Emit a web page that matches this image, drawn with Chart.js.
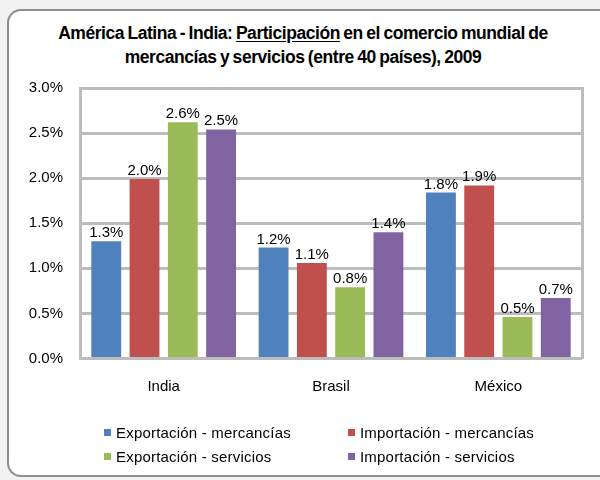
<!DOCTYPE html>
<html>
<head>
<meta charset="utf-8">
<script src="https://cdn.jsdelivr.net/npm/chart.js@4"></script>
<style>
  body { margin: 0; background: #f2f2f2; width: 600px; height: 480px; overflow: hidden; position: relative; font-family: "Liberation Sans", Arial, sans-serif; }
  #frame { position: absolute; left: 7px; top: 9px; width: 610px; height: 464px; border: 2px solid #8e8e8e; border-radius: 14px; background: #fff; }
  #title { position: absolute; left: 0; top: 21px; width: 606px; text-align: center; font-weight: bold; font-size: 17.5px; letter-spacing: -0.45px; word-spacing: -1px; line-height: 24px; color: #000; }
  #title u { text-underline-offset: 2px; }
  #wrap { position: absolute; left: 0; top: 0; width: 600px; height: 480px; }
  #legend { position: absolute; left: 104px; top: 423px; display: grid; grid-template-columns: 244px 220px; row-gap: 6px; font-size: 15px; letter-spacing: 0.2px; color: #000; }
  #legend div { display: flex; align-items: center; height: 18px; white-space: nowrap; }
  #legend span.box { display: inline-block; width: 7px; height: 7px; margin-right: 5px; }
</style>
</head>
<body>
<div id="frame"></div>
<div id="title">América Latina - India: <u>Participación</u> en el comercio mundial de<br>mercancías y servicios (entre 40 países), 2009</div>
<div id="wrap"><canvas id="chart"></canvas></div>
<div id="legend"></div>
<script>
const categories = ['India', 'Brasil', 'México'];
const seriesLabels = ['Exportación - mercancías', 'Importación - mercancías', 'Exportación - servicios', 'Importación - servicios'];
const seriesColors = ['#4f81bd', '#c0504d', '#9bbb59', '#8064a2'];

// participacion en %
const expMercancias = [1.30, 1.23, 1.84];
const impMercancias = [1.99, 1.06, 1.92];
const expServicios = [2.62, 0.79, 0.46];
const impServicios = [2.54, 1.40, 0.67];

const yTicks = [0, 0.5, 1.0, 1.5, 2.0, 2.5, 3.0];

const allSeries = [expMercancias, impMercancias, expServicios, impServicios];
const gridColor = '#bcbcbc';
const fontFamily = '"Liberation Sans", Arial, sans-serif';

// etiquetas sobre las barras
const barLabels = {
    id: 'barLabels',
    afterDatasetsDraw(chart) {
        const ctx = chart.ctx;
        ctx.save();
        ctx.font = '15px ' + fontFamily;
        ctx.fillStyle = '#000';
        ctx.textAlign = 'center';
        ctx.textBaseline = 'alphabetic';
        chart.data.datasets.forEach((ds, i) => {
            chart.getDatasetMeta(i).data.forEach((bar, j) => {
                ctx.fillText(ds.data[j].toFixed(1) + '%', bar.x, bar.y - 4);
            });
        });
        ctx.restore();
    }
};

const ctx = document.getElementById('chart').getContext('2d');

const chart = new Chart(ctx, {
    type: 'bar',
    data: {
        labels: categories,
        datasets: allSeries.map((values, i) => ({
            label: seriesLabels[i],
            data: values,
            backgroundColor: seriesColors[i],
            borderWidth: 0,
            categoryPercentage: 0.915,
            barPercentage: 0.78,
        })),
    },
    options: {
        responsive: true,
        maintainAspectRatio: false,
        animation: false,
        layout: {
            padding: { top: 88, right: 18, bottom: 81.5, left: 0 }
        },
        plugins: {
            legend: { display: false },
            title: { display: false },
            tooltip: { enabled: false },
        },
        scales: {
            x: {
                grid: { display: false, drawTicks: false },
                border: { display: false },
                ticks: {
                    color: '#000',
                    font: { family: fontFamily, size: 15 },
                    padding: 19,
                },
                afterFit: (s) => { s.height = 40; },
            },
            y: {
                min: 0,
                max: 3,
                afterBuildTicks: (s) => { s.ticks = yTicks.map(v => ({ value: v })); },
                grid: { color: gridColor, lineWidth: 3, drawTicks: false },
                border: { display: true, color: gridColor, width: 3 },
                ticks: {
                    color: '#000',
                    font: { family: fontFamily, size: 15 },
                    padding: 17,
                    callback: (v) => v.toFixed(1) + '%',
                },
                afterFit: (s) => { s.width = 80; },
            },
            y2: {
                position: 'right',
                min: 0,
                max: 3,
                grid: { display: false, drawTicks: false },
                border: { display: true, color: gridColor, width: 3 },
                ticks: { display: false },
                afterFit: (s) => { s.width = 0; },
            },
        },
    },
    plugins: [barLabels],
});

// leyenda en dos columnas
const legend = document.getElementById('legend');
seriesLabels.forEach((name, i) => {
    const item = document.createElement('div');
    item.innerHTML = `<span class="box" style="background:${seriesColors[i]}"></span>${name}`;
    legend.appendChild(item);
});
</script>
</body>
</html>
